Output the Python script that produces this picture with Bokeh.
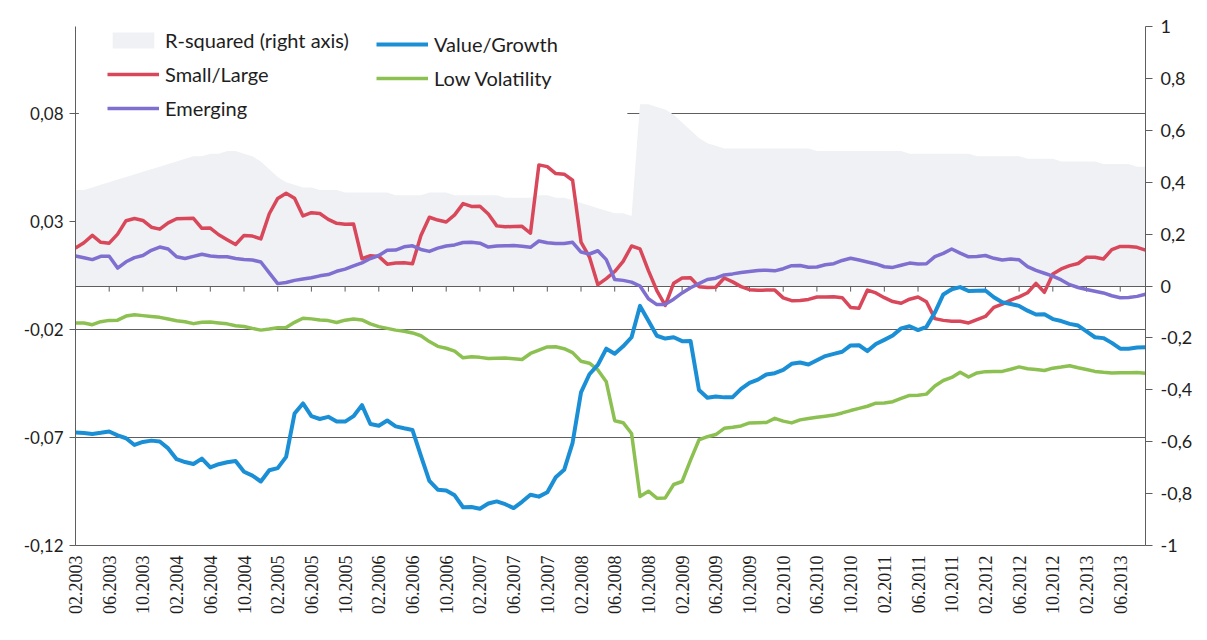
from bokeh.plotting import figure
from bokeh.models import Range1d, LinearAxis, FixedTicker, Legend, LegendItem, BoxAnnotation
from bokeh.embed import file_html
from bokeh.resources import INLINE

# ---------------- data (monthly, 02.2003 .. 09.2013) ----------------
month_index = list(range(128))

tick_positions = list(range(0, 128, 4))
tick_labels = ["02.2003", "06.2003", "10.2003", "02.2004", "06.2004", "10.2004",
               "02.2005", "06.2005", "10.2005", "02.2006", "06.2006", "10.2006",
               "02.2007", "06.2007", "10.2007", "02.2008", "06.2008", "10.2008",
               "02.2009", "06.2009", "10.2009", "02.2010", "06.2010", "10.2010",
               "02.2011", "06.2011", "10.2011", "02.2012", "06.2012", "10.2012",
               "02.2013", "06.2013"]

left_ticks = [-0.12, -0.07, -0.02, 0.03, 0.08]
left_labels = ["-0,12", "-0,07", "-0,02", "0,03", "0,08"]
right_ticks = [-1.0, -0.8, -0.6, -0.4, -0.2, 0.0, 0.2, 0.4, 0.6, 0.8, 1.0]
right_labels = ["-1", "-0,8", "-0,6", "-0,4", "-0,2", "0", "0,2", "0,4", "0,6", "0,8", "1"]

r_squared = [
    0.37, 0.37, 0.38, 0.39, 0.40, 0.41, 0.42, 0.43, 0.44, 0.45, 0.46, 0.47,
    0.48, 0.49, 0.50, 0.50, 0.51, 0.51, 0.52, 0.52, 0.51, 0.50, 0.48, 0.45,
    0.42, 0.40, 0.39, 0.38, 0.38, 0.37, 0.37, 0.37, 0.36, 0.36, 0.36, 0.36,
    0.36, 0.36, 0.35, 0.35, 0.35, 0.35, 0.36, 0.36, 0.36, 0.35, 0.35, 0.35,
    0.35, 0.35, 0.35, 0.34, 0.34, 0.34, 0.34, 0.35, 0.35, 0.34, 0.34, 0.33,
    0.32, 0.31, 0.30, 0.29, 0.28, 0.28, 0.27,
    0.70, 0.70, 0.69, 0.68, 0.66, 0.63, 0.60, 0.57, 0.55, 0.54, 0.53, 0.53, 0.53,
    0.53, 0.53, 0.53, 0.53, 0.53, 0.53, 0.53, 0.53, 0.52, 0.52, 0.52, 0.52, 0.52, 0.52, 0.52, 0.52,
    0.52, 0.52, 0.52, 0.51, 0.51, 0.51, 0.51, 0.51, 0.51, 0.51, 0.51, 0.50, 0.50, 0.50, 0.50, 0.50,
    0.50, 0.49, 0.49, 0.49, 0.49, 0.48, 0.48, 0.48, 0.48, 0.48, 0.47, 0.47, 0.47, 0.47, 0.46, 0.46,
]

small_large = [
    0.0176, 0.0200, 0.0234, 0.0202, 0.0198, 0.0240, 0.0302, 0.0312,
    0.0303, 0.0272, 0.0263, 0.0292, 0.0311, 0.0312, 0.0313, 0.0267,
    0.0268, 0.0237, 0.0214, 0.0192, 0.0234, 0.0231, 0.0218, 0.0334,
    0.0405, 0.0429, 0.0406, 0.0324, 0.0339, 0.0335, 0.0308, 0.0290,
    0.0286, 0.0287, 0.0126, 0.0140, 0.0137, 0.0101, 0.0106, 0.0107,
    0.0103, 0.0234, 0.0318, 0.0305, 0.0296, 0.0329, 0.0381, 0.0368,
    0.0369, 0.0333, 0.0278, 0.0274, 0.0275, 0.0276, 0.0244, 0.0560,
    0.0552, 0.0520, 0.0517, 0.0489, 0.0203, 0.0134, 0.0006, 0.0034,
    0.0067, 0.0114, 0.0185, 0.0172, 0.0071, -0.0021, -0.0090, 0.0013,
    0.0037, 0.0038, -0.0003, -0.0007, -0.0006, 0.0037, 0.0019, -0.0003,
    -0.0017, -0.0020, -0.0019, -0.0019, -0.0055, -0.0068, -0.0067, -0.0062,
    -0.0051, -0.0051, -0.0050, -0.0054, -0.0099, -0.0103, -0.0019, -0.0032,
    -0.0054, -0.0072, -0.0080, -0.0061, -0.0051, -0.0073, -0.0151, -0.0159,
    -0.0163, -0.0163, -0.0171, -0.0156, -0.0141, -0.0099, -0.0084, -0.0065,
    -0.0050, -0.0031, 0.0012, -0.0029, 0.0055, 0.0079, 0.0094, 0.0104,
    0.0133, 0.0133, 0.0125, 0.0168, 0.0183, 0.0183, 0.0179, 0.0166,
]

emerging = [
    0.0139, 0.0131, 0.0122, 0.0137, 0.0138, 0.0083, 0.0112, 0.0131,
    0.0141, 0.0165, 0.0180, 0.0171, 0.0135, 0.0127, 0.0137, 0.0147,
    0.0139, 0.0135, 0.0135, 0.0127, 0.0123, 0.0120, 0.0111, 0.0061,
    0.0011, 0.0016, 0.0026, 0.0032, 0.0038, 0.0047, 0.0053, 0.0068,
    0.0078, 0.0093, 0.0107, 0.0127, 0.0141, 0.0165, 0.0166, 0.0181,
    0.0186, 0.0169, 0.0160, 0.0175, 0.0185, 0.0190, 0.0201, 0.0202,
    0.0198, 0.0180, 0.0185, 0.0186, 0.0187, 0.0184, 0.0179, 0.0208,
    0.0200, 0.0196, 0.0197, 0.0202, 0.0157, 0.0148, 0.0163, 0.0122,
    0.0030, 0.0026, 0.0018, 0.0000, -0.0059, -0.0086, -0.0085, -0.0061,
    -0.0032, -0.0008, 0.0011, 0.0030, 0.0036, 0.0051, 0.0056, 0.0062,
    0.0067, 0.0072, 0.0073, 0.0070, 0.0080, 0.0094, 0.0095, 0.0087,
    0.0088, 0.0098, 0.0103, 0.0118, 0.0128, 0.0120, 0.0111, 0.0102,
    0.0089, 0.0086, 0.0096, 0.0106, 0.0102, 0.0103, 0.0136, 0.0151,
    0.0171, 0.0152, 0.0135, 0.0136, 0.0141, 0.0128, 0.0120, 0.0125,
    0.0121, 0.0090, 0.0072, 0.0059, 0.0046, 0.0028, 0.0006, -0.0007,
    -0.0016, -0.0024, -0.0032, -0.0045, -0.0054, -0.0053, -0.0048, -0.0038,
]

value_growth = [
    -0.0677, -0.0680, -0.0684, -0.0679, -0.0673, -0.0691, -0.0704, -0.0735,
    -0.0721, -0.0715, -0.0719, -0.0751, -0.0801, -0.0814, -0.0823, -0.0798,
    -0.0839, -0.0824, -0.0815, -0.0809, -0.0859, -0.0877, -0.0904, -0.0852,
    -0.0842, -0.0790, -0.0590, -0.0543, -0.0602, -0.0615, -0.0605, -0.0627,
    -0.0627, -0.0602, -0.0551, -0.0638, -0.0646, -0.0622, -0.0649, -0.0658,
    -0.0666, -0.0786, -0.0901, -0.0942, -0.0946, -0.0968, -0.1023, -0.1022,
    -0.1030, -0.1006, -0.0996, -0.1009, -0.1027, -0.0998, -0.0965, -0.0974,
    -0.0954, -0.0884, -0.0850, -0.0725, -0.0492, -0.0408, -0.0365, -0.0290,
    -0.0313, -0.0279, -0.0237, -0.0092, -0.0161, -0.0230, -0.0243, -0.0237,
    -0.0255, -0.0254, -0.0481, -0.0517, -0.0511, -0.0515, -0.0514, -0.0476,
    -0.0448, -0.0433, -0.0409, -0.0403, -0.0388, -0.0360, -0.0354, -0.0363,
    -0.0343, -0.0324, -0.0314, -0.0304, -0.0275, -0.0274, -0.0301, -0.0268,
    -0.0249, -0.0229, -0.0196, -0.0186, -0.0204, -0.0189, -0.0123, -0.0039,
    -0.0015, -0.0005, -0.0023, -0.0022, -0.0021, -0.0052, -0.0075, -0.0083,
    -0.0092, -0.0114, -0.0132, -0.0131, -0.0153, -0.0162, -0.0175, -0.0183,
    -0.0210, -0.0237, -0.0241, -0.0263, -0.0290, -0.0290, -0.0284, -0.0283,
]

low_volatility = [
    -0.0171, -0.0171, -0.0179, -0.0165, -0.0159, -0.0158, -0.0139, -0.0133,
    -0.0137, -0.0141, -0.0145, -0.0153, -0.0161, -0.0165, -0.0174, -0.0168,
    -0.0167, -0.0171, -0.0175, -0.0184, -0.0187, -0.0196, -0.0204, -0.0199,
    -0.0193, -0.0192, -0.0168, -0.0149, -0.0152, -0.0157, -0.0160, -0.0169,
    -0.0158, -0.0153, -0.0157, -0.0175, -0.0188, -0.0196, -0.0204, -0.0209,
    -0.0217, -0.0230, -0.0257, -0.0279, -0.0288, -0.0301, -0.0332, -0.0327,
    -0.0330, -0.0335, -0.0334, -0.0333, -0.0336, -0.0340, -0.0312, -0.0297,
    -0.0282, -0.0281, -0.0290, -0.0308, -0.0348, -0.0357, -0.0388, -0.0443,
    -0.0623, -0.0632, -0.0682, -0.0973, -0.0949, -0.0981, -0.0980, -0.0918,
    -0.0904, -0.0805, -0.0712, -0.0697, -0.0687, -0.0658, -0.0653, -0.0647,
    -0.0633, -0.0632, -0.0631, -0.0612, -0.0625, -0.0633, -0.0619, -0.0613,
    -0.0607, -0.0602, -0.0597, -0.0587, -0.0576, -0.0566, -0.0556, -0.0542,
    -0.0541, -0.0535, -0.0520, -0.0506, -0.0505, -0.0500, -0.0462, -0.0437,
    -0.0423, -0.0399, -0.0421, -0.0402, -0.0396, -0.0395, -0.0395, -0.0385,
    -0.0374, -0.0383, -0.0386, -0.0391, -0.0380, -0.0375, -0.0369, -0.0378,
    -0.0386, -0.0395, -0.0399, -0.0402, -0.0401, -0.0401, -0.0400, -0.0404,
]

# ---------------- styling ----------------
AXIS_GREY = "#5e5e5e"
TXT = "#1e1e1e"
SANS = "Lato"
SERIF = "Liberation Serif"

p = figure(width=1195, height=624, output_backend="svg", toolbar_location=None,
           x_range=Range1d(0, 127), y_range=Range1d(-0.12, 0.12),
           min_border_left=75, min_border_right=47, min_border_top=26, min_border_bottom=79)
p.extra_y_ranges = {"r2": Range1d(-1, 1)}
p.outline_line_color = None
p.background_fill_color = "white"
p.border_fill_color = "white"

# grid lines at the left-axis ticks
p.xgrid.visible = False
p.ygrid.ticker = FixedTicker(ticks=left_ticks)
p.ygrid.grid_line_color = AXIS_GREY
p.ygrid.grid_line_width = 1

# R-squared area (right axis)
area = p.varea(x=month_index, y1=0, y2=r_squared, y_range_name="r2",
               fill_color="#F0F1F4", fill_alpha=1.0)

# category axis crossing at zero, with its tick marks
p.hspan(y=[0], line_color=AXIS_GREY, line_width=1)
p.segment(x0=tick_positions[1:], y0=0, x1=tick_positions[1:], y1=-0.0026,
          line_color=AXIS_GREY, line_width=1)

r_small = p.line(month_index, small_large, line_color="#D9475A", line_width=3.5, line_join="round")
r_emerg = p.line(month_index, emerging, line_color="#7E6FD0", line_width=3.5, line_join="round")
r_lowvol = p.line(month_index, low_volatility, line_color="#8CC152", line_width=3.5, line_join="round")
r_value = p.line(month_index, value_growth, line_color="#1B8FD6", line_width=4, line_join="round")

# left axis
yax = p.yaxis[0]
yax.ticker = FixedTicker(ticks=left_ticks)
yax.major_label_overrides = dict(zip(left_ticks, left_labels))
yax.axis_line_color = AXIS_GREY
yax.major_tick_line_color = AXIS_GREY
yax.major_tick_out = 6
yax.major_tick_in = 0
yax.minor_tick_line_color = None
yax.major_label_text_font = SANS
yax.major_label_text_font_size = "17px"
yax.major_label_text_color = TXT
yax.major_label_standoff = 6

# right axis
rax = LinearAxis(y_range_name="r2", ticker=FixedTicker(ticks=right_ticks))
rax.major_label_overrides = dict(zip(right_ticks, right_labels))
rax.axis_line_color = AXIS_GREY
rax.major_tick_line_color = AXIS_GREY
rax.major_tick_out = 7
rax.major_tick_in = 0
rax.minor_tick_line_color = None
rax.major_label_text_font = SANS
rax.major_label_text_font_size = "18px"
rax.major_label_text_color = TXT
rax.major_label_standoff = 8
p.add_layout(rax, "right")

# bottom axis (labels only)
xax = p.xaxis[0]
xax.ticker = FixedTicker(ticks=tick_positions)
xax.major_label_overrides = dict(zip(tick_positions, tick_labels))
xax.major_label_orientation = 3.14159265 / 2
xax.axis_line_color = AXIS_GREY
xax.major_tick_line_color = None
xax.minor_tick_line_color = None
xax.major_label_text_font = SERIF
xax.major_label_text_font_size = "18px"
xax.major_label_text_color = TXT
xax.major_label_standoff = 4

# white legend box (hides gridline behind it)
p.add_layout(BoxAnnotation(left=0.4, right=65.5, bottom=0.074, fill_color="white",
                           fill_alpha=1.0, line_color=None))

legend_style = dict(glyph_width=52, glyph_height=20, label_height=22, label_standoff=6,
                    spacing=10, padding=4, margin=0, border_line_color=None,
                    background_fill_alpha=0.0, label_text_font=SANS,
                    label_text_font_size="20px", label_text_color=TXT,
                    label_text_baseline="middle")

leg1 = Legend(items=[LegendItem(label="R-squared (right axis)", renderers=[area]),
                     LegendItem(label="Small/Large", renderers=[r_small]),
                     LegendItem(label="Emerging", renderers=[r_emerg])],
              location=(32, 425), label_width=215, **legend_style)
leg2 = Legend(items=[LegendItem(label="Value/Growth", renderers=[r_value]),
                     LegendItem(label="Low Volatility", renderers=[r_lowvol])],
              location=(301, 455), label_width=150, **legend_style)
p.add_layout(leg1)
p.add_layout(leg2)

open("out.html", "w").write(file_html(p, INLINE))
